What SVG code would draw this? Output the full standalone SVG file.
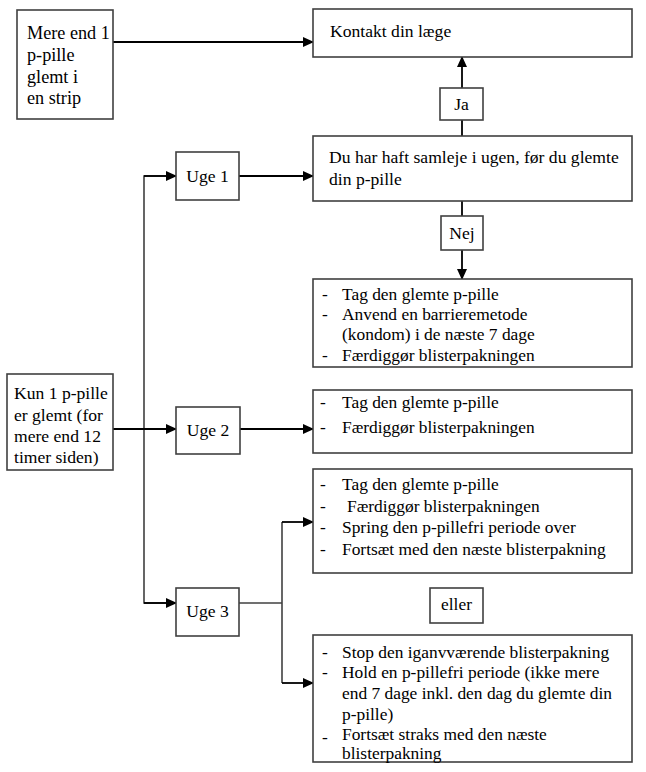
<svg xmlns="http://www.w3.org/2000/svg" width="646" height="772" viewBox="0 0 646 772">
<defs>
<marker id="ah" markerUnits="userSpaceOnUse" markerWidth="11" markerHeight="10" refX="10" refY="5" orient="auto">
<path d="M0,0 L11,5 L0,10 z" fill="#000"/>
</marker>
<style>
.box{fill:#fff;stroke:#404040;stroke-width:1.6}
text{font-family:'Liberation Serif','Times New Roman','DejaVu Serif',serif;fill:#000}
.t{font-size:17.6px}
.m{font-size:18.2px}
.l{font-size:17.4px}
.c{fill:none;stroke:#000;stroke-width:1.8}
.g{fill:none;stroke:#404040;stroke-width:1.6}
</style>
</defs>
<rect width="646" height="772" fill="#fff"/>
<g id="connectors">
<line class="c" x1="113" y1="42" x2="313" y2="42" marker-end="url(#ah)"/>
<line class="c" x1="462" y1="88" x2="462" y2="57" marker-end="url(#ah)"/>
<line class="c" x1="462" y1="136" x2="462" y2="120"/>
<line class="c" x1="462" y1="201" x2="462" y2="216"/>
<line class="c" x1="462" y1="250" x2="462" y2="279" marker-end="url(#ah)"/>
<line class="c" x1="239" y1="176" x2="313" y2="176" marker-end="url(#ah)"/>
<polyline class="g" points="176,176 144,176 144,603 176,603"/>
<line class="c" x1="144" y1="176" x2="176" y2="176" marker-end="url(#ah)"/>
<line class="c" x1="144" y1="603" x2="176" y2="603" marker-end="url(#ah)"/>
<line class="c" x1="113" y1="429" x2="176" y2="429" marker-end="url(#ah)"/>
<line class="c" x1="240" y1="429" x2="313" y2="429" marker-end="url(#ah)"/>
<polyline class="g" points="239,603 282,603"/>
<line class="g" x1="282" y1="522" x2="282" y2="683"/>
<line class="c" x1="282" y1="522" x2="313" y2="522" marker-end="url(#ah)"/>
<line class="c" x1="282" y1="683" x2="313" y2="683" marker-end="url(#ah)"/>
</g>
<g id="mere">
<rect class="box" x="17" y="10" width="96" height="109"/>
<text class="m" x="27" y="39">Mere end 1</text>
<text class="m" x="27" y="61">p-pille</text>
<text class="m" x="27" y="83">glemt i</text>
<text class="m" x="27" y="104">en strip</text>
</g>
<g id="kontakt">
<rect class="box" x="313" y="9" width="319" height="48"/>
<text class="t" x="330" y="37">Kontakt din læge</text>
</g>
<g id="ja">
<rect class="box" x="440" y="88" width="43" height="32"/>
<text class="t" x="461.5" y="110" text-anchor="middle">Ja</text>
</g>
<g id="samleje">
<rect class="box" x="313" y="136" width="319" height="65"/>
<text class="t" x="329" y="163">Du har haft samleje i ugen, før du glemte</text>
<text class="t" x="329" y="185">din p-pille</text>
</g>
<g id="nej">
<rect class="box" x="441" y="216" width="42" height="34"/>
<text class="t" x="462" y="239" text-anchor="middle">Nej</text>
</g>
<g id="uge1">
<rect class="box" x="176" y="152" width="63" height="48"/>
<text class="t" x="207.5" y="182" text-anchor="middle">Uge 1</text>
</g>
<g id="list1">
<rect class="box" x="313" y="279" width="319" height="88"/>
<text class="l" x="322" y="300">-</text><text class="l" x="342" y="300">Tag den glemte p-pille</text>
<text class="l" x="322" y="320">-</text><text class="l" x="342" y="320">Anvend en barrieremetode</text>
<text class="l" x="342" y="340">(kondom) i de næste 7 dage</text>
<text class="l" x="322" y="361">-</text><text class="l" x="342" y="361">Færdiggør blisterpakningen</text>
</g>
<g id="kun">
<rect class="box" x="7" y="374" width="106" height="96"/>
<text class="t" x="14" y="399">Kun 1 p-pille</text>
<text class="t" x="14" y="421">er glemt (for</text>
<text class="t" x="14" y="442">mere end 12</text>
<text class="t" x="14" y="463">timer siden)</text>
</g>
<g id="uge2">
<rect class="box" x="176" y="407" width="64" height="47"/>
<text class="t" x="208" y="436" text-anchor="middle">Uge 2</text>
</g>
<g id="list2">
<rect class="box" x="313" y="390" width="319" height="63"/>
<text class="l" x="320" y="408">-</text><text class="l" x="342" y="408">Tag den glemte p-pille</text>
<text class="l" x="320" y="433">-</text><text class="l" x="342" y="433">Færdiggør blisterpakningen</text>
</g>
<g id="list3">
<rect class="box" x="313" y="469" width="319" height="104"/>
<text class="l" x="320" y="490">-</text><text class="l" x="342" y="490">Tag den glemte p-pille</text>
<text class="l" x="320" y="512">-</text><text class="l" x="347" y="512">Færdiggør blisterpakningen</text>
<text class="l" x="320" y="533">-</text><text class="l" x="342" y="533">Spring den p-pillefri periode over</text>
<text class="l" x="320" y="555">-</text><text class="l" x="342" y="555">Fortsæt med den næste blisterpakning</text>
</g>
<g id="uge3">
<rect class="box" x="176" y="588" width="63" height="48"/>
<text class="t" x="207.5" y="617" text-anchor="middle">Uge 3</text>
</g>
<g id="eller">
<rect class="box" x="430" y="588" width="53" height="35"/>
<text class="l" x="456.5" y="610" text-anchor="middle">eller</text>
</g>
<g id="list4">
<rect class="box" x="313" y="635" width="319" height="127"/>
<text class="l" x="322" y="658">-</text><text class="l" x="342" y="658">Stop den iganvværende blisterpakning</text>
<text class="l" x="322" y="678">-</text><text class="l" x="342" y="678">Hold en p-pillefri periode (ikke mere</text>
<text class="l" x="342" y="699">end 7 dage inkl. den dag du glemte din</text>
<text class="l" x="342" y="720">p-pille)</text>
<text class="l" x="322" y="743">-</text><text class="l" x="342" y="740">Fortsæt straks med den næste</text>
<text class="l" x="342" y="759">blisterpakning</text>
</g>
</svg>
